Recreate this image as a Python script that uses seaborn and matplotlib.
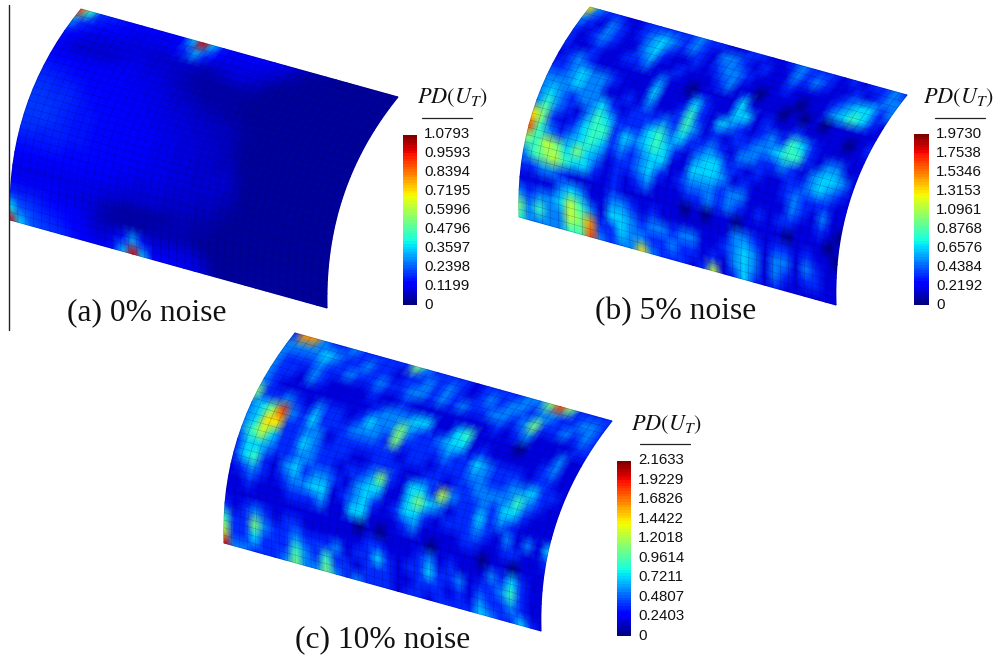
import numpy as np
import matplotlib
matplotlib.use("Agg")
import matplotlib.pyplot as plt
import seaborn as sns

# colour scale ticks of the three panels
ticks_a = [1.0793, 0.9593, 0.8394, 0.7195, 0.5996, 0.4796, 0.3597, 0.2398, 0.1199, 0]
ticks_b = [1.9730, 1.7538, 1.5346, 1.3153, 1.0961, 0.8768, 0.6576, 0.4384, 0.2192, 0]
ticks_c = [2.1633, 1.9229, 1.6826, 1.4422, 1.2018, 0.9614, 0.7211, 0.4807, 0.2403, 0]

captions = ["(a) 0% noise", "(b) 5% noise", "(c) 10% noise"]

# field a on a scale of 85 (rows top to bottom edge)
field_a = [
    [70, 35, 15, 13, 12, 10, 10, 10, 10, 9, 10, 26, 78, 26, 12, 10, 10, 10, 9, 9, 8, 6, 4, 3, 3, 2, 2, 2, 2, 2, 2, 2],
    [22, 14, 12, 11, 10, 9, 8, 8, 8, 8, 9, 14, 24, 14, 9, 8, 8, 8, 8, 7, 6, 4, 3, 2, 2, 2, 2, 2, 2, 2, 2, 2],
    [12, 10, 8, 7, 7, 7, 7, 7, 7, 6, 6, 6, 6, 5, 4, 5, 6, 7, 6, 5, 3, 2, 2, 2, 2, 2, 2, 2, 2, 2, 2, 2],
    [10, 8, 6, 6, 6, 6, 7, 8, 8, 7, 7, 6, 5, 4, 3, 3, 3, 3, 3, 3, 2, 2, 2, 2, 2, 2, 2, 2, 2, 2, 2, 2],
    [11, 10, 10, 9, 9, 9, 9, 9, 9, 8, 8, 7, 6, 5, 4, 3, 3, 3, 3, 2, 2, 2, 2, 2, 2, 2, 2, 2, 2, 2, 2, 2],
    [13, 12, 12, 11, 11, 10, 10, 10, 9, 9, 8, 8, 7, 6, 6, 5, 4, 4, 3, 3, 2, 2, 2, 2, 2, 2, 2, 2, 2, 2, 2, 2],
    [14, 14, 13, 13, 12, 11, 11, 10, 10, 9, 9, 8, 8, 7, 7, 6, 6, 5, 5, 4, 3, 2, 2, 2, 2, 2, 2, 2, 2, 2, 2, 2],
    [15, 15, 14, 14, 13, 12, 11, 11, 10, 10, 9, 9, 8, 8, 7, 7, 6, 6, 5, 5, 3, 2, 2, 2, 2, 2, 2, 2, 2, 2, 2, 2],
    [15, 15, 15, 14, 13, 12, 12, 11, 11, 10, 10, 9, 9, 8, 8, 7, 7, 6, 6, 5, 4, 2, 2, 2, 2, 2, 2, 2, 2, 2, 2, 2],
    [15, 15, 15, 14, 13, 12, 12, 11, 11, 10, 10, 9, 9, 8, 8, 7, 7, 6, 6, 5, 5, 3, 2, 2, 2, 2, 2, 2, 2, 2, 2, 2],
    [14, 14, 13, 13, 13, 12, 12, 11, 11, 10, 10, 9, 9, 8, 8, 7, 7, 6, 6, 6, 6, 4, 2, 2, 2, 2, 2, 2, 2, 2, 2, 2],
    [12, 12, 12, 12, 12, 11, 11, 11, 10, 10, 9, 9, 8, 8, 8, 7, 7, 6, 6, 6, 5, 4, 2, 2, 2, 2, 2, 2, 2, 2, 2, 2],
    [10, 10, 10, 10, 10, 10, 10, 9, 9, 9, 8, 8, 7, 7, 7, 6, 6, 6, 5, 5, 4, 3, 2, 2, 2, 2, 2, 2, 2, 2, 2, 2],
    [8, 8, 8, 8, 8, 8, 8, 8, 8, 7, 7, 6, 6, 6, 6, 5, 5, 5, 4, 4, 3, 2, 2, 2, 2, 2, 2, 2, 2, 2, 2, 2],
    [9, 9, 9, 9, 9, 8, 8, 7, 7, 5, 4, 3, 3, 3, 3, 3, 4, 4, 3, 3, 2, 2, 2, 2, 2, 2, 2, 2, 2, 2, 2, 2],
    [14, 13, 13, 12, 11, 10, 9, 8, 6, 4, 3, 3, 3, 3, 4, 4, 4, 4, 3, 2, 2, 2, 2, 2, 2, 2, 2, 2, 2, 2, 2, 2],
    [30, 18, 16, 14, 13, 12, 10, 9, 7, 6, 7, 12, 24, 12, 7, 7, 7, 7, 6, 4, 2, 2, 2, 2, 2, 2, 2, 2, 2, 2, 2, 2],
    [78, 28, 18, 16, 15, 14, 12, 10, 9, 9, 12, 26, 78, 26, 10, 10, 9, 9, 8, 6, 3, 2, 2, 2, 2, 2, 2, 2, 2, 2, 2, 2],
]

# fields b and c on a scale of 12
field_b = [
    [8, 3, 2, 2, 1, 1, 2, 2, 2, 2, 2, 3, 2, 2, 1, 1, 2, 2, 1, 1, 2, 3, 2, 2, 2, 1, 2, 1, 2, 2, 3, 2],
    [3, 2, 1, 3, 2, 1, 2, 3, 4, 3, 2, 3, 2, 1, 3, 3, 2, 1, 2, 1, 1, 3, 2, 3, 2, 1, 1, 2, 1, 2, 3, 3],
    [2, 1, 2, 3, 2, 1, 1, 3, 4, 2, 1, 1, 2, 1, 2, 3, 3, 2, 1, 1, 1, 2, 1, 1, 1, 1, 2, 3, 4, 4, 2, 3],
    [2, 1, 1, 2, 1, 1, 2, 2, 3, 1, 1, 2, 1, 1, 1, 2, 3, 1, 1, 0, 1, 1, 1, 0, 1, 1, 3, 4, 5, 4, 2, 1],
    [1, 2, 3, 2, 1, 1, 1, 1, 1, 1, 3, 1, 1, 0, 1, 1, 1, 1, 4, 1, 1, 1, 0, 1, 0, 1, 0, 1, 1, 1, 1, 1],
    [2, 2, 3, 4, 3, 3, 2, 1, 1, 1, 4, 1, 1, 1, 4, 2, 1, 1, 4, 4, 1, 2, 1, 1, 2, 1, 1, 1, 1, 0, 1, 2],
    [3, 3, 3, 4, 3, 3, 1, 1, 2, 1, 3, 1, 1, 2, 5, 2, 1, 4, 3, 2, 1, 2, 3, 2, 5, 4, 2, 1, 1, 1, 1, 1],
    [3, 4, 3, 2, 3, 3, 4, 2, 1, 2, 2, 2, 3, 2, 5, 3, 1, 2, 1, 2, 2, 3, 3, 4, 5, 5, 2, 1, 3, 3, 1, 1],
    [3, 5, 3, 2, 1, 3, 5, 4, 2, 2, 2, 4, 5, 3, 4, 2, 2, 3, 2, 1, 3, 3, 2, 2, 3, 2, 1, 3, 4, 4, 3, 1],
    [8, 6, 2, 1, 2, 4, 5, 5, 2, 4, 3, 4, 5, 4, 2, 1, 3, 4, 4, 2, 2, 1, 2, 1, 1, 2, 2, 3, 4, 3, 2, 1],
    [10, 5, 3, 2, 3, 4, 5, 4, 2, 3, 2, 3, 4, 4, 1, 1, 4, 4, 4, 3, 1, 2, 1, 1, 1, 2, 3, 2, 2, 2, 1, 1],
    [6, 5, 7, 6, 4, 6, 4, 3, 1, 2, 2, 3, 4, 2, 1, 2, 3, 3, 3, 2, 3, 3, 1, 1, 1, 1, 3, 2, 1, 3, 1, 1],
    [3, 5, 6, 7, 5, 4, 4, 2, 1, 2, 1, 2, 3, 1, 1, 1, 2, 2, 3, 2, 3, 2, 1, 2, 1, 2, 2, 1, 1, 2, 1, 0],
    [2, 2, 3, 3, 2, 1, 1, 1, 1, 2, 1, 1, 1, 1, 1, 1, 0, 1, 0, 1, 1, 0, 1, 1, 1, 1, 0, 1, 1, 1, 0, 1],
    [1, 1, 1, 1, 3, 4, 3, 1, 1, 3, 3, 2, 1, 2, 1, 1, 1, 1, 1, 1, 1, 3, 3, 2, 1, 2, 2, 1, 2, 1, 1, 0],
    [3, 2, 3, 3, 4, 7, 5, 3, 1, 4, 4, 3, 2, 3, 3, 2, 3, 3, 1, 1, 2, 3, 4, 3, 1, 3, 3, 1, 3, 2, 1, 1],
    [6, 3, 5, 3, 3, 7, 6, 9, 2, 2, 4, 3, 3, 2, 2, 3, 2, 2, 1, 2, 1, 3, 4, 3, 1, 3, 2, 1, 2, 2, 1, 1],
    [5, 3, 3, 3, 3, 5, 5, 10, 3, 2, 3, 3, 8, 3, 2, 2, 2, 1, 2, 7, 1, 2, 4, 2, 1, 2, 1, 1, 1, 1, 1, 1],
]

field_c = [
    [2, 9, 9, 3, 2, 2, 3, 2, 2, 2, 2, 2, 6, 3, 2, 2, 2, 2, 1, 2, 2, 2, 2, 3, 3, 6, 10, 6, 2, 2, 2, 2],
    [3, 3, 3, 3, 4, 3, 2, 2, 3, 2, 2, 1, 2, 2, 3, 2, 3, 2, 1, 2, 3, 2, 3, 3, 2, 3, 3, 2, 2, 3, 3, 2],
    [3, 2, 2, 2, 3, 2, 2, 3, 2, 2, 3, 2, 2, 3, 3, 2, 3, 2, 3, 2, 2, 3, 3, 2, 3, 6, 2, 2, 3, 2, 3, 2],
    [3, 2, 2, 1, 3, 2, 1, 1, 1, 1, 2, 1, 1, 2, 1, 1, 1, 1, 1, 1, 1, 1, 2, 1, 2, 3, 1, 1, 1, 1, 2, 2],
    [3, 2, 1, 1, 1, 1, 1, 1, 1, 1, 1, 2, 3, 3, 3, 4, 4, 1, 1, 4, 5, 1, 1, 1, 1, 0, 1, 1, 1, 3, 1, 1],
    [6, 2, 2, 3, 2, 1, 3, 2, 2, 1, 2, 4, 3, 3, 6, 3, 2, 2, 3, 4, 4, 1, 2, 1, 1, 1, 1, 1, 2, 3, 1, 1],
    [3, 4, 6, 10, 3, 2, 4, 2, 2, 2, 3, 3, 3, 2, 6, 2, 2, 2, 2, 3, 2, 2, 4, 3, 2, 2, 2, 1, 2, 2, 1, 1],
    [3, 4, 8, 8, 2, 2, 3, 3, 1, 2, 2, 2, 2, 2, 2, 1, 2, 2, 1, 2, 2, 2, 3, 3, 2, 2, 3, 3, 4, 2, 2, 1],
    [3, 5, 7, 4, 2, 2, 4, 3, 2, 2, 2, 1, 1, 2, 2, 2, 1, 1, 2, 2, 1, 2, 2, 3, 3, 3, 3, 5, 3, 2, 1, 1],
    [2, 4, 4, 3, 2, 2, 3, 3, 2, 2, 1, 2, 2, 3, 6, 2, 1, 4, 4, 2, 7, 3, 2, 2, 3, 2, 4, 4, 2, 1, 1, 1],
    [2, 4, 5, 2, 1, 3, 4, 2, 3, 3, 2, 1, 3, 4, 4, 1, 1, 4, 6, 4, 3, 1, 2, 2, 4, 2, 3, 2, 1, 1, 1, 1],
    [1, 2, 3, 2, 1, 2, 3, 3, 4, 4, 1, 2, 3, 4, 2, 1, 2, 4, 4, 2, 1, 2, 2, 2, 3, 2, 1, 3, 1, 3, 1, 4],
    [1, 1, 2, 1, 1, 1, 2, 2, 2, 3, 1, 1, 4, 4, 1, 1, 1, 2, 3, 1, 1, 1, 1, 2, 2, 1, 1, 2, 2, 1, 1, 2],
    [1, 1, 1, 1, 1, 1, 1, 1, 1, 1, 1, 1, 1, 0, 1, 0, 1, 1, 1, 1, 0, 1, 1, 1, 1, 0, 1, 1, 0, 1, 1, 1],
    [2, 1, 2, 3, 2, 1, 2, 2, 1, 1, 1, 1, 1, 1, 2, 2, 1, 1, 1, 2, 3, 1, 2, 1, 1, 1, 3, 2, 4, 2, 1, 1],
    [5, 2, 2, 6, 3, 2, 2, 3, 2, 2, 2, 3, 1, 2, 2, 4, 2, 1, 2, 2, 4, 2, 2, 3, 1, 2, 2, 3, 5, 2, 1, 1],
    [7, 2, 2, 4, 2, 2, 2, 5, 3, 2, 5, 2, 2, 1, 2, 2, 2, 1, 1, 2, 2, 2, 1, 2, 1, 3, 2, 2, 3, 2, 1, 1],
    [11, 3, 3, 2, 2, 2, 3, 6, 3, 3, 6, 3, 2, 3, 2, 2, 2, 1, 2, 2, 1, 2, 2, 2, 2, 4, 3, 2, 2, 4, 2, 1],
]

W, H = 995, 659

sns.set_theme(style="white")
plt.rcParams["font.family"] = ["Liberation Sans", "DejaVu Sans"]
plt.rcParams["mathtext.fontset"] = "stix"

fig = plt.figure(figsize=(W / 100, H / 100), dpi=100)
ax = fig.add_axes([0, 0, 1, 1])
ax.set_xlim(0, W)
ax.set_ylim(H, 0)
ax.axis("off")


def sheet(u, v, tl, ctrl, bl, tr):
    # cylinder patch: curved left edge swept along the top edge
    tl, ctrl, bl, tr = map(np.array, (tl, ctrl, bl, tr))
    x = (1 - v) ** 2 * tl[0] + 2 * v * (1 - v) * ctrl[0] + v ** 2 * bl[0] + u * (tr[0] - tl[0])
    y = (1 - v) ** 2 * tl[1] + 2 * v * (1 - v) * ctrl[1] + v ** 2 * bl[1] + u * (tr[1] - tl[1])
    return x, y


def draw_panel(field, scale, ticks, corners, bar, title_xy, line_x, line_y, caption, cap_xy):
    vals = np.array(field, dtype=float) / scale * ticks[0]
    nv, nu = vals.shape
    u, v = np.meshgrid(np.linspace(0, 1, nu), np.linspace(0, 1, nv))
    x, y = sheet(u, v, *corners)
    ax.pcolormesh(x, y, vals, shading="gouraud", cmap="jet", vmin=0, vmax=ticks[0], rasterized=True)

    # element mesh
    for vv in np.linspace(0, 1, 31):
        lx, ly = sheet(np.linspace(0, 1, 2), np.full(2, vv), *corners)
        ax.plot(lx, ly, color="#000030", lw=0.35, alpha=0.3)
    for uu in np.linspace(0, 1, 41):
        t = np.linspace(0, 1, 40)
        lx, ly = sheet(np.full(40, uu), t, *corners)
        ax.plot(lx, ly, color="#000030", lw=0.35, alpha=0.3)

    # colour bar
    bx, by, bw, bh = bar
    cax = fig.add_axes([bx / W, 1 - (by + bh) / H, bw / W, bh / H])
    ramp = np.linspace(ticks[0], 0, 64).reshape(-1, 1)
    sns.heatmap(ramp, ax=cax, cmap="jet", vmin=0, vmax=ticks[0], cbar=False, xticklabels=False, yticklabels=False)
    cax.yaxis.tick_right()
    cax.set_yticks([64 * (1 - t / ticks[0]) - 0.7 for t in ticks])
    cax.set_yticklabels(["%.4f" % t if t else "0" for t in ticks], rotation=0, fontsize=10.8, color="#111111")
    cax.tick_params(axis="y", length=0, pad=5.2)

    ax.text(title_xy[0], title_xy[1], r"$PD(U_T)$", fontsize=16, ha="center", va="center", color="#111111")
    ax.plot(line_x, [line_y, line_y], color="#222222", lw=0.9)
    ax.text(cap_xy[0], cap_xy[1], caption, fontsize=22.7, family="Liberation Serif", ha="left", va="center", color="#111111")


draw_panel(field_a, 85, ticks_a, ((81, 9), (7, 100), (10, 220), (398, 97)),
           (403, 133, 14, 172), (453, 98), (422, 472), 118, captions[0], (67, 313))
draw_panel(field_b, 12, ticks_b, ((590, 7), (515, 100), (519, 217), (907, 95)),
           (914, 132, 15, 173), (959, 98), (935, 985), 118, captions[1], (595, 312))
draw_panel(field_c, 12, ticks_c, ((295, 333), (220, 427), (224, 543), (612, 421)),
           (617, 459, 14, 177), (667, 425), (640, 690), 444, captions[2], (295, 640))

# stray frame line left of panel a
ax.plot([9, 9], [5, 330], color="#222222", lw=1.0)

fig.savefig("out.png", dpi=100)
